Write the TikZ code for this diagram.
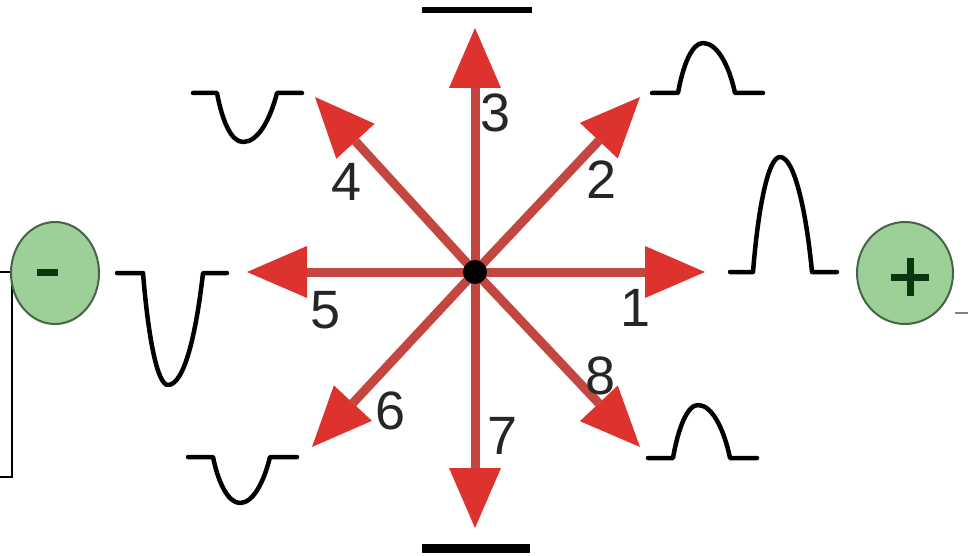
\documentclass[tikz,border=0pt]{standalone}
\usepackage{fontspec}
\setmainfont{Liberation Sans}
\usetikzlibrary{arrows.meta}
\definecolor{shaftred}{RGB}{196,70,64}
\definecolor{headred}{RGB}{222,50,46}
\definecolor{circfill}{RGB}{157,207,152}
\definecolor{circedge}{RGB}{70,100,70}
\definecolor{signgreen}{RGB}{10,55,15}
\tikzset{
  vec/.style={draw=shaftred, line width=9pt,
    -{Triangle[length=60pt,width=52pt,line width=0pt,color=headred]}},
  wave/.style={draw=black, line width=4.5pt, line join=round, line cap=round},
  num/.style={font=\fontsize{54}{54}\selectfont, text=black!85, inner sep=0pt},
  pole/.style={fill=circfill, draw=circedge, line width=2pt},
  sign/.style={draw=signgreen, line width=7pt},
}
\begin{document}
\begin{tikzpicture}[x=1pt,y=-1pt]
\useasboundingbox (0,0) rectangle (973,556);
% frame fragment at left
\draw[line width=2.5pt] (0,272) -- (12,272) -- (12,477) -- (0,477);
% small grey line at right
\draw[gray, line width=1.5pt] (955,313) -- (968,313);

% poles
\draw[pole] (55,273) ellipse [x radius=44, y radius=51];
\node (minus) at (55,273) {};
\draw[sign] (37,272) -- (58,272);
\draw[pole] (905,273) ellipse [x radius=48, y radius=51];
\node (plus) at (905,273) {};
\draw[sign] (891,277) -- (929,277) (910,258) -- (910,296);

% flat lines top and bottom
\draw[line width=6pt] (422,10) -- (532,10);
\draw[line width=9pt] (422,548) -- (530,548);

% waveforms
\draw[wave] (730,272) -- (753,272) .. controls (758,209) and (768,157) .. (780,157)
  .. controls (794,157) and (806,209) .. (812,272) -- (837,272);
\draw[wave] (117,273) -- (143,273) .. controls (148,335) and (157,385) .. (168,385)
  .. controls (184,385) and (196,335) .. (203,273) -- (227,273);
\draw[wave] (652,93) -- (678,93) .. controls (683,65) and (692,43) .. (703,43)
  .. controls (717,43) and (729,65) .. (735,93) -- (763,93);
\draw[wave] (648,458) -- (673,458) .. controls (678,429) and (687,405) .. (698,405)
  .. controls (712,405) and (724,429) .. (730,458) -- (757,458);
\draw[wave] (193,93) -- (217,93) .. controls (222,120) and (231,142) .. (243,142)
  .. controls (258,142) and (270,120) .. (277,93) -- (302,93);
\draw[wave] (188,457) -- (213,457) .. controls (218,482) and (228,503) .. (240,503)
  .. controls (253,503) and (264,482) .. (270,457) -- (297,457);

% arrows
\node[circle, inner sep=0pt, minimum size=24pt] (c) at (475,272) {};
\coordinate (t1) at (705,272);
\coordinate (t2) at (640,97);
\coordinate (t3) at (475,28);
\coordinate (t4) at (315,97);
\coordinate (t5) at (247,272);
\coordinate (t6) at (312,447);
\coordinate (t7) at (475,528);
\coordinate (t8) at (640,447);
\foreach \i in {1,...,8} \draw[vec] (c.center) -- (t\i);
\fill[black] (c.center) circle (12);

% labels
\node[num] (n1) at (636,308) {1};
\node[num] (n2) at (602,180) {2};
\node[num] (n3) at (496,113) {3};
\node[num] (n4) at (347,182) {4};
\node[num] (n5) at (326,310) {5};
\node[num] (n6) at (391,411) {6};
\node[num] (n7) at (503,436) {7};
\node[num] (n8) at (601,376) {8};
\end{tikzpicture}
\end{document}
